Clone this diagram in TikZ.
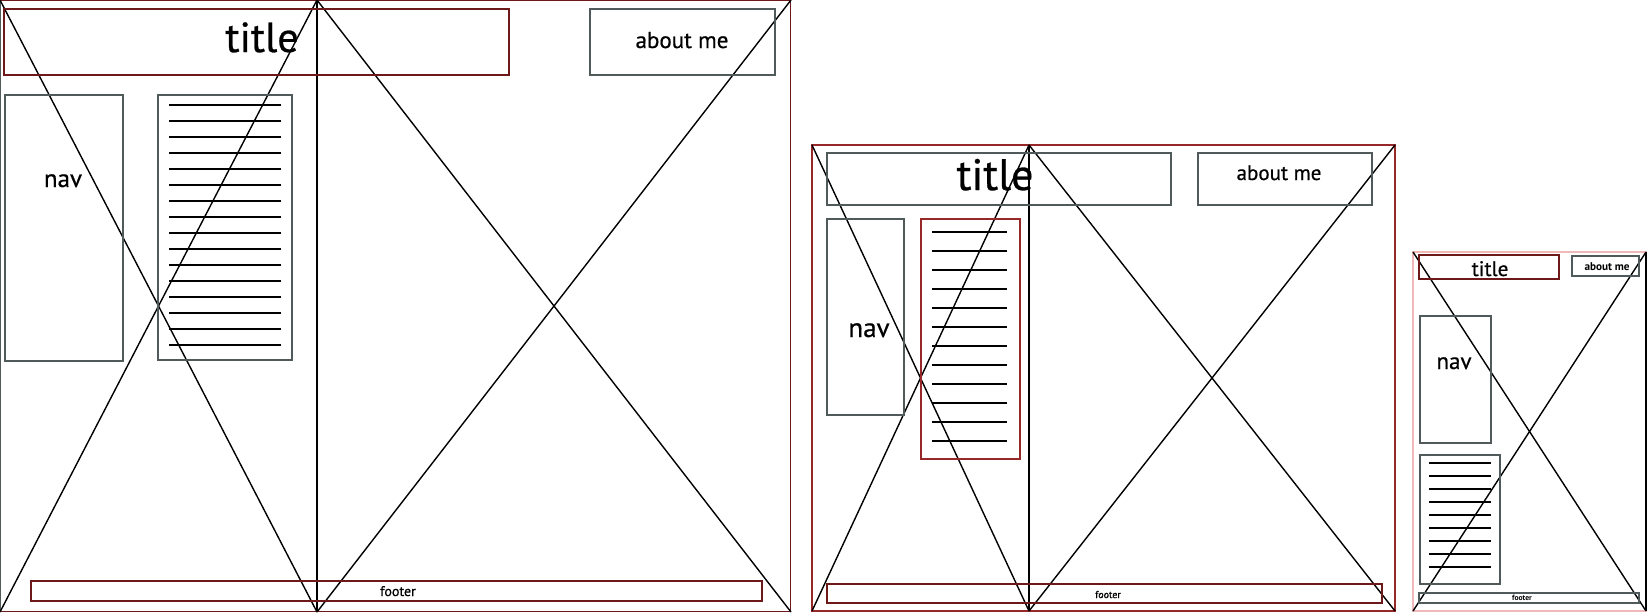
\documentclass[tikz,border=0pt]{standalone}
\usepackage{fontspec}
\setmainfont{PT Sans}
\newfontfamily\lblfont{PT Sans}[FakeBold=0.6]
\definecolor{bxgray}{RGB}{80,90,90}
\definecolor{bxred}{RGB}{110,25,25}
\definecolor{frred}{RGB}{150,40,40}
\definecolor{pinkfr}{RGB}{240,185,185}
\tikzset{
  gbox/.style={draw=bxgray, line width=1pt},
  rbox/.style={draw=bxred, line width=0.9pt},
  xline/.style={draw=black, line width=0.7pt},
  tline/.style={draw=black, line width=0.7pt},
  lbl/.style={inner sep=0pt, anchor=base, text=black},
}
\begin{document}
\begin{tikzpicture}[x=0.5pt, y=-0.5pt]
\useasboundingbox (0,0) rectangle (1647,612);
\fill[white] (0,0) rectangle (1647,612);

% ---------- panel 1 ----------
\draw[draw=bxred, line width=0.7pt] (0.7,0.7) rectangle (790.5,611.5);
\draw[draw=bxgray, line width=0.8pt] (0.7,0.7) -- (0.7,611.5);
\draw[xline] (317,0) -- (317,612);
\draw[xline] (0,0) -- (317,612);
\draw[xline] (317,0) -- (0,612);
\draw[xline] (317,0) -- (791,612);
\draw[xline] (791,0) -- (317,612);
\draw[rbox] (4,9) rectangle (509,75);
\draw[gbox] (590,9) rectangle (775,75);
\draw[gbox] (5,95) rectangle (123,361);
\draw[gbox] (158,95) rectangle (292,360);
\foreach \i in {0,...,15} \draw[tline] (169,105+16*\i) -- (281,105+16*\i);
\draw[rbox] (31,581) rectangle (762,601);
\node[lbl, font=\lblfont\fontsize{21}{24}\selectfont] (t1) at (262,52) {title};
\node[lbl, font=\lblfont\fontsize{11.5}{14}\selectfont] (a1) at (682,48) {about me};
\node[lbl, font=\lblfont\fontsize{12.5}{15}\selectfont] (n1) at (63,187) {nav};
\node[lbl, font=\lblfont\fontsize{7}{8}\selectfont] (f1) at (398,596) {footer};

% ---------- panel 2 ----------
\draw[draw=frred, line width=0.6pt] (812,145) rectangle (1395,611);
\draw[xline] (1029,145) -- (1029,611);
\draw[xline] (812,145) -- (1029,611);
\draw[xline] (1029,145) -- (812,611);
\draw[xline] (1029,145) -- (1395,611);
\draw[xline] (1395,145) -- (1029,611);
\draw[gbox] (827,153) rectangle (1171,205);
\draw[gbox] (1198,153) rectangle (1372,205);
\draw[gbox] (827,219) rectangle (904,415);
\draw[draw=frred, line width=0.7pt] (921,219) rectangle (1020,459);
\foreach \i in {0,...,11} \draw[tline] (932,232+19*\i) -- (1007,232+19*\i);
\draw[rbox] (827,584) rectangle (1382,603);
\node[lbl, font=\lblfont\fontsize{22}{26}\selectfont] (t2) at (995,190) {title};
\node[lbl, font=\lblfont\fontsize{10.5}{13}\selectfont] (a2) at (1279,180) {about me};
\node[lbl, font=\lblfont\fontsize{13.5}{16}\selectfont] (n2) at (869,337) {nav};
\node[lbl, font=\lblfont\fontsize{5}{6}\selectfont] (f2) at (1108,598) {footer};

% ---------- panel 3 ----------
\draw[draw=pinkfr, line width=0.6pt] (1413,252) rectangle (1646,611);
\draw[xline] (1646,252) -- (1646,611);
\draw[xline] (1413,252) -- (1646,611);
\draw[xline] (1646,252) -- (1413,611);
\draw[rbox] (1419,255) rectangle (1559,279);
\draw[gbox] (1572,256) rectangle (1639,276);
\draw[gbox] (1420,316) rectangle (1491,443);
\draw[gbox] (1420,455) rectangle (1500,584);
\foreach \i in {0,...,8} \draw[tline] (1429,463+13*\i) -- (1491,463+13*\i);
\draw[gbox] (1419,593) rectangle (1639,603);
\node[lbl, font=\lblfont\fontsize{10.5}{12}\selectfont] (t3) at (1490,276) {title};
\node[lbl, font=\bfseries\fontsize{5.6}{7}\selectfont] (a3) at (1607,270) {about me};
\node[lbl, font=\lblfont\fontsize{11.5}{14}\selectfont] (n3) at (1454,369) {nav};
\node[lbl, font=\bfseries\fontsize{3.8}{5}\selectfont] (f3) at (1522,600) {footer};
\end{tikzpicture}
\end{document}
